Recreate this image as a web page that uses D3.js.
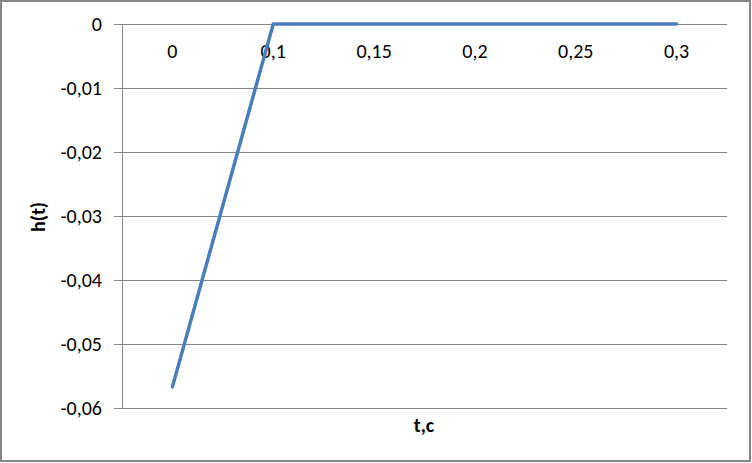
<!DOCTYPE html>
<html><head><meta charset="utf-8">
<script src="https://cdn.jsdelivr.net/npm/d3@7"></script>
<style>body{margin:0;background:#fff}svg{display:block}text{font-family:Carlito,Lato,"Liberation Sans",sans-serif;fill:#000}</style>
</head><body>
<script>
const categories = ["0", "0,1", "0,15", "0,2", "0,25", "0,3"];
const values = [-0.0567, 0, 0, 0, 0, 0];
const yTicks = [0, -0.01, -0.02, -0.03, -0.04, -0.05, -0.06];
const xTitle = "t,c";
const yTitle = "h(t)";

const W = 752, H = 463;
const plot = {left: 122, right: 727, top: 24, bottom: 408};
const svg = d3.select("body").append("svg").attr("width", W).attr("height", H);
svg.append("rect").attr("x", 1).attr("y", 1).attr("width", W - 3).attr("height", H - 3)
  .attr("fill", "#fff").attr("stroke", "#868686").attr("stroke-width", 2);

const x = d3.scaleBand().domain(categories).range([plot.left, plot.right]);
const y = d3.scaleLinear().domain([-0.06, 0]).range([plot.bottom, plot.top]);
const fmt = v => v === 0 ? "0" : d3.format(".2f")(v).replace(".", ",").replace("−", "-");

svg.append("g").selectAll("line").data(yTicks).join("line")
  .attr("x1", plot.left - 8).attr("x2", plot.right)
  .attr("y1", d => Math.round(y(d)) + 0.5).attr("y2", d => Math.round(y(d)) + 0.5)
  .attr("stroke", "#868686").attr("stroke-width", 1);
svg.append("line").attr("x1", plot.left + 0.5).attr("x2", plot.left + 0.5)
  .attr("y1", plot.top).attr("y2", plot.bottom).attr("stroke", "#868686");

svg.append("g").selectAll("text").data(yTicks).join("text")
  .attr("x", 102).attr("y", d => y(d)).attr("dy", "0.35em").attr("text-anchor", "end")
  .style("font-size", "20px").text(fmt);

svg.append("g").selectAll("text").data(categories).join("text")
  .attr("x", d => x(d) + x.bandwidth() / 2).attr("y", 51).attr("dy", "0.35em")
  .attr("text-anchor", "middle").style("font-size", "20px").text(d => d);

const line = d3.line().x((d, i) => x(categories[i]) + x.bandwidth() / 2).y(d => y(d));
svg.append("path").datum(values).attr("d", line).attr("fill", "none")
  .attr("stroke", "#4A7EBB").attr("stroke-width", 3.5).attr("stroke-linecap", "round").attr("stroke-linejoin", "round");

svg.append("text").attr("x", 424).attr("y", 425).attr("dy", "0.35em").attr("text-anchor", "middle")
  .style("font-size", "20px").style("font-weight", "bold").text(xTitle);
svg.append("text").attr("transform", "translate(38,217) rotate(-90)").attr("dy", "0.35em")
  .attr("text-anchor", "middle").style("font-size", "20px").style("font-weight", "bold").text(yTitle);
</script>
</body></html>
